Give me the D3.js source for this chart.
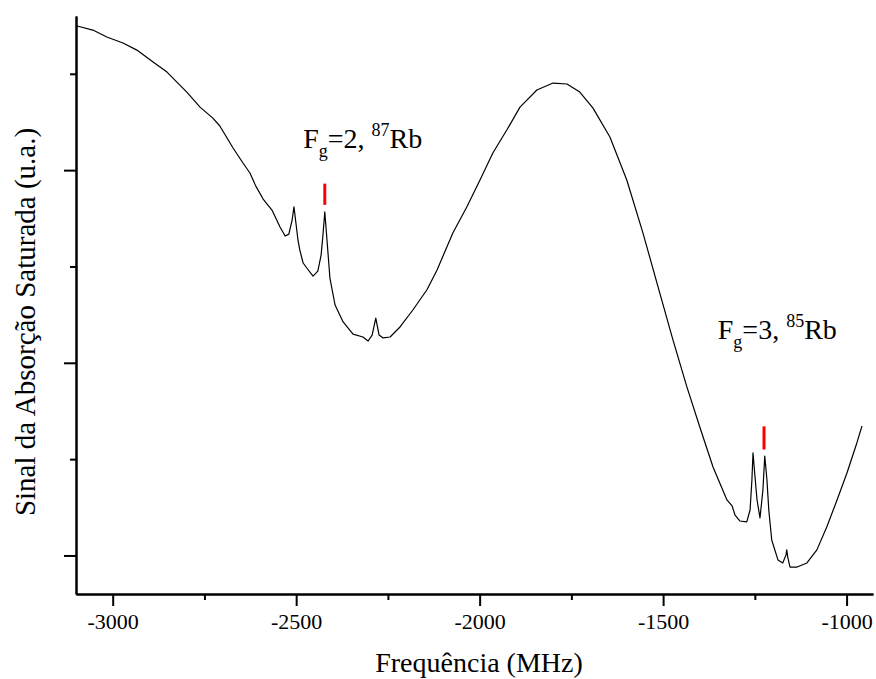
<!DOCTYPE html>
<html>
<head>
<meta charset="utf-8">
<script src="https://cdn.jsdelivr.net/npm/d3@7"></script>
<style>
  body { margin: 0; background: #fff; }
  text { font-family: "Liberation Serif", "Times New Roman", serif; fill: #000; }
</style>
</head>
<body>
<svg id="chart" width="876" height="679"></svg>
<script>
// frequency (MHz) and saturated absorption signal (arb. units)
var freq = [-3097, -3054, -3016, -2972, -2934, -2890, -2852, -2798, -2762, -2727,
	-2708, -2672, -2645, -2626, -2610, -2590, -2566, -2544, -2530, -2520,
	-2511, -2506, -2501, -2495, -2490, -2481, -2471, -2454, -2441, -2432,
	-2427, -2422, -2416, -2408, -2394, -2372, -2345, -2318, -2304, -2293,
	-2283, -2274, -2263, -2244, -2217, -2182, -2163, -2144, -2116, -2073,
	-2035, -1999, -1964, -1926, -1890, -1844, -1800, -1762, -1727, -1691,
	-1645, -1599, -1555, -1509, -1473, -1435, -1400, -1364, -1326, -1312,
	-1304, -1291, -1272, -1263, -1258, -1255, -1250, -1244, -1236, -1228,
	-1223, -1217, -1212, -1204, -1187, -1174, -1165, -1163, -1160, -1154,
	-1135, -1108, -1081, -1054, -1026, -999, -972, -958];
var signal = [2.748, 2.727, 2.691, 2.660, 2.623, 2.561, 2.509, 2.405, 2.327, 2.270,
	2.229, 2.115, 2.037, 1.985, 1.917, 1.850, 1.793, 1.705, 1.658, 1.668,
	1.741, 1.809, 1.731, 1.637, 1.585, 1.518, 1.492, 1.450, 1.476, 1.559,
	1.663, 1.783, 1.637, 1.440, 1.300, 1.212, 1.149, 1.134, 1.113, 1.144,
	1.232, 1.144, 1.129, 1.134, 1.186, 1.274, 1.326, 1.378, 1.482, 1.674,
	1.809, 1.949, 2.089, 2.208, 2.327, 2.416, 2.452, 2.447, 2.405, 2.322,
	2.172, 1.949, 1.674, 1.362, 1.118, 0.874, 0.667, 0.459, 0.288, 0.257,
	0.210, 0.179, 0.174, 0.236, 0.392, 0.532, 0.418, 0.288, 0.195, 0.340,
	0.516, 0.392, 0.236, 0.080, -0.023, -0.039, 0.003, 0.029, -0.013, -0.060,
	-0.060, -0.039, 0.029, 0.148, 0.288, 0.428, 0.584, 0.672];

var xMajor = [-3000, -2500, -2000, -1500, -1000];
var xMinor = [-2750, -2250, -1750, -1250];
var yMajor = [0, 1, 2];
var yMinor = [0.5, 1.5, 2.5];

// red markers over the transitions: [freq, from, to]
var markers = [[-2422, 1.82, 1.93], [-1225, 0.55, 0.67]];
// labels: [freq, signal, F_g, isotope]
var labels = [[-2481, 2.115, "2", "87"], [-1351, 1.123, "3", "85"]];

var svg = d3.select("#chart");
var x = d3.scaleLinear().domain([-3100, -928]).range([76, 873]);
var y = d3.scaleLinear().domain([-0.2, 2.8]).range([594, 16]);

function styleAxis(g) {
	g.selectAll("path, line").attr("stroke", "#000").attr("stroke-width", 2);
	g.selectAll("text").attr("font-size", 22).attr("fill", "#000")
		.style("font-family", "'Liberation Serif', serif");
}

// x axis
svg.append("g")
	.attr("transform", "translate(0,594)")
	.call(d3.axisBottom(x).tickValues(xMajor).tickSize(12).tickSizeOuter(0).tickPadding(7)
		.tickFormat(d => String(d)))
	.call(styleAxis);
svg.append("g")
	.attr("transform", "translate(0,594)")
	.call(d3.axisBottom(x).tickValues(xMinor).tickSize(6).tickSizeOuter(0).tickFormat(""))
	.call(styleAxis);

// y axis (no labels)
svg.append("g")
	.attr("transform", "translate(76,0)")
	.call(d3.axisLeft(y).tickValues(yMajor).tickSize(12).tickSizeOuter(0).tickFormat(""))
	.call(styleAxis);
svg.append("g")
	.attr("transform", "translate(76,0)")
	.call(d3.axisLeft(y).tickValues(yMinor).tickSize(6).tickSizeOuter(0).tickFormat(""))
	.call(styleAxis);

// the trace
var line = d3.line()
	.x((d, i) => x(freq[i]))
	.y((d, i) => y(signal[i]));
svg.append("path")
	.datum(freq)
	.attr("d", line)
	.attr("fill", "none")
	.attr("stroke", "#000")
	.attr("stroke-width", 1.2)
	.attr("stroke-linejoin", "round");

// red markers
svg.selectAll(".marker")
	.data(markers)
	.enter().append("line")
		.attr("x1", d => x(d[0])).attr("x2", d => x(d[0]))
		.attr("y1", d => y(d[1])).attr("y2", d => y(d[2]))
		.attr("stroke", "#ff0000")
		.attr("stroke-width", 3);

// peak labels
var lab = svg.selectAll(".lab")
	.data(labels)
	.enter().append("text")
		.attr("x", d => x(d[0]))
		.attr("y", d => y(d[1]))
		.attr("font-size", 28)
		.style("white-space", "pre");
lab.append("tspan").text("F");
lab.append("tspan").attr("dy", 9).attr("font-size", 18).text("g");
lab.append("tspan").attr("dy", -9).text(d => "=" + d[2] + ", ");
lab.append("tspan").attr("dy", -12).attr("font-size", 18).text(d => d[3]);
lab.append("tspan").attr("dy", 12).text("Rb");

// axis titles
svg.append("text")
	.attr("x", 479).attr("y", 672)
	.attr("text-anchor", "middle")
	.attr("font-size", 28)
	.text("Frequência (MHz)");
svg.append("text")
	.attr("transform", "translate(35,322) rotate(-90)")
	.attr("text-anchor", "middle")
	.attr("font-size", 29)
	.text("Sinal da Absorção Saturada (u.a.)");
</script>
</body>
</html>
